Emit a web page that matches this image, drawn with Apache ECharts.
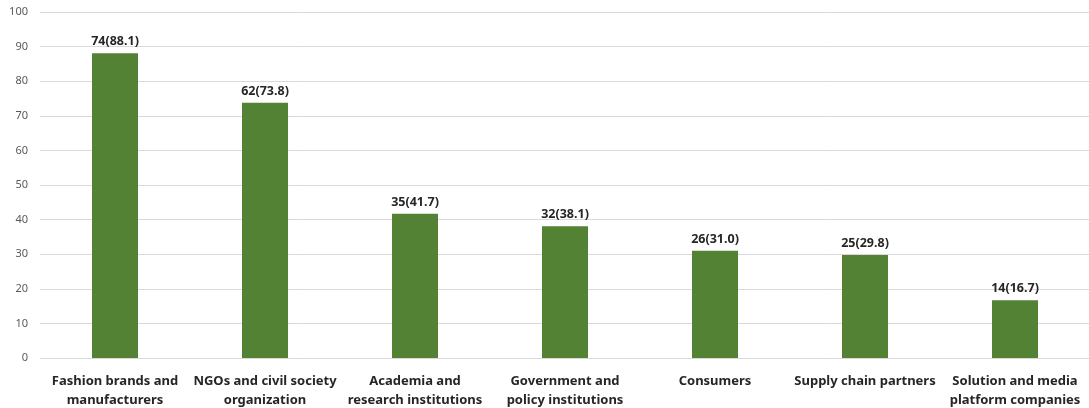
<!DOCTYPE html>
<html><head><meta charset="utf-8">
<script src="https://cdn.jsdelivr.net/npm/echarts@6/dist/echarts.min.js"></script>
<style>html,body{margin:0;padding:0;background:#fff}#c{width:1089px;height:408px}</style>
</head><body><div id="c"></div>
<script>
const categories = ["Fashion brands and\nmanufacturers","NGOs and civil society\norganization","Academia and\nresearch institutions","Government and\npolicy institutions","Consumers","Supply chain partners","Solution and media\nplatform companies"];
const percents = [88.1, 73.8, 41.7, 38.1, 31.0, 29.8, 16.7];
const counts = [74, 62, 35, 32, 26, 25, 14];
const yTicks = [0,10,20,30,40,50,60,70,80,90,100];
const FONT = "'Noto Sans', sans-serif";
const chart = echarts.init(document.getElementById('c'));
chart.setOption({
  animation:false,
  grid:{left:40,right:-1,top:12,bottom:50,outerBoundsMode:'none',containLabel:false},
  xAxis:{type:'category',data:categories,
    axisLine:{show:false},axisTick:{show:false},
    axisLabel:{interval:0,color:'#262626',fontWeight:'bold',fontSize:13,fontFamily:FONT,lineHeight:19,margin:14}},
  yAxis:{type:'value',min:yTicks[0],max:yTicks[yTicks.length-1],interval:10,
    axisLine:{show:false},axisTick:{show:false},
    splitLine:{lineStyle:{color:'#d9d9d9',width:1}},
    axisLabel:{color:'#595959',fontSize:11,fontFamily:FONT,margin:12}},
  series:[{type:'bar',data:percents,barWidth:46,itemStyle:{color:'#548235'},
    label:{show:true,position:'top',distance:5,color:'#262626',fontWeight:'bold',fontSize:12.5,fontFamily:FONT,
      formatter:p=>counts[p.dataIndex]+'('+percents[p.dataIndex].toFixed(1)+')'}}]
});
</script></body></html>
